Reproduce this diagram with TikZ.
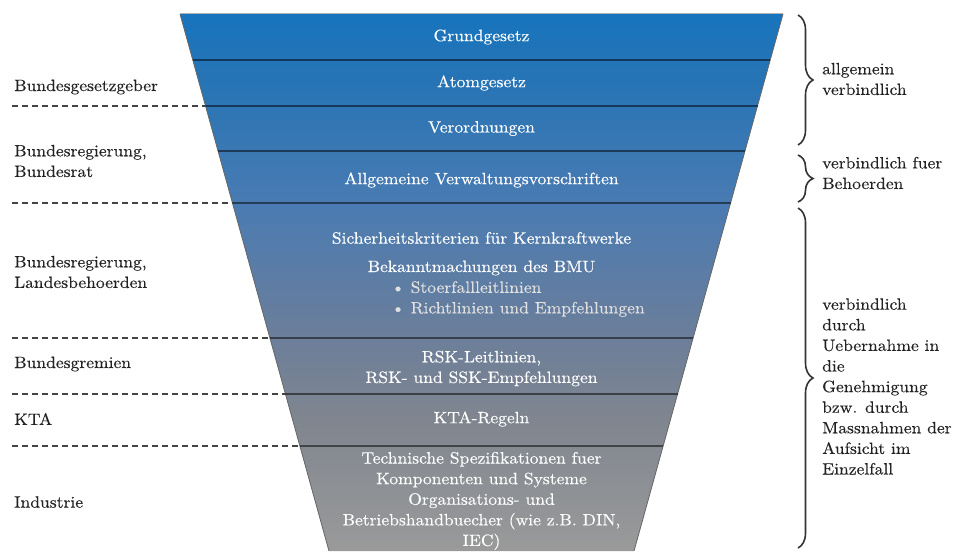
\documentclass[tikz,border=0pt]{standalone}
\usepackage{fontspec}
\setmainfont{lmroman10-regular.otf}[FakeStretch=1.07, FakeBold=0.3]
\usetikzlibrary{decorations.pathreplacing}
\definecolor{cA}{HTML}{1874BC}
\definecolor{cB}{HTML}{2774B5}
\definecolor{cC}{HTML}{4A7BB2}
\definecolor{cD}{HTML}{6B7E9A}
\definecolor{cE}{HTML}{80868F}
\definecolor{cF}{HTML}{9A9A9A}
\definecolor{dashc}{HTML}{444444}
\definecolor{bracec}{HTML}{333333}
\definecolor{labelc}{HTML}{222222}
\pgfdeclareverticalshading{funnelshade}{100bp}{color(0bp)=(cF); color(25bp)=(cF); color(37.2bp)=(cE); color(45.1bp)=(cD); color(57.2bp)=(cC); color(68.6bp)=(cB); color(75bp)=(cA); color(100bp)=(cA)}
\tikzset{
  every node/.style={font=\fontsize{16.4}{20.6}\selectfont, inner sep=0pt},
  intext/.style={text=white, align=center},
  subtext/.style={text=white!88!black, align=left},
  sidetext/.style={text=labelc, align=left, anchor=west},
  sepline/.style={draw=black, draw opacity=0.5, line width=1.5pt},
  dashline/.style={draw=dashc, line width=1.6pt, dash pattern=on 6pt off 4pt},
  bracestyle/.style={draw=bracec, line width=1.6pt, decorate, decoration={brace, amplitude=15pt}}
}
\begin{document}
\begin{tikzpicture}[x=1pt, y=-1pt]
\useasboundingbox (0,0) rectangle (957,551);
% funnel corners
\coordinate (tl) at (180,14);
\coordinate (tr) at (783,14);
\coordinate (bl) at (329,551);
\coordinate (br) at (634,551);
\shade[shading=funnelshade] (tl) -- (tr) -- (br) -- (bl) -- cycle;
\draw[black!60, line width=0.8pt] (tl) -- (bl);
\draw[black!60, line width=0.8pt] (tr) -- (br);
\draw[gray!60, line width=1pt] (tl) -- (tr);
% band separators
\coordinate (l1) at (192.8,60);  \coordinate (r1) at (770.2,60);
\coordinate (l2) at (205.5,106); \coordinate (r2) at (757.5,106);
\coordinate (l3) at (218.0,151); \coordinate (r3) at (745.0,151);
\coordinate (l4) at (232.4,203); \coordinate (r4) at (730.6,203);
\coordinate (l5) at (269.9,338); \coordinate (r5) at (693.1,338);
\coordinate (l6) at (285.4,394); \coordinate (r6) at (677.6,394);
\coordinate (l7) at (299.9,446); \coordinate (r7) at (663.1,446);
\foreach \i in {1,...,7} { \draw[sepline] (l\i) -- (r\i); }
% dashed left lines
\coordinate (d2) at (12,106);
\coordinate (d4) at (12,203);
\coordinate (d5) at (12,338);
\coordinate (d6) at (12,394);
\coordinate (d7) at (12,446);
\foreach \i in {2,4,5,6,7} { \draw[dashline] (d\i) -- (l\i); }
% funnel texts
\node[intext] (grund) at (481.5,37) {Grundgesetz};
\node[intext] (atom) at (481.5,83) {Atomgesetz};
\node[intext] (vo) at (481.5,128.5) {Verordnungen};
\node[intext] (avv) at (481.5,180) {Allgemeine Verwaltungsvorschriften};
\node[intext] (sich) at (481.5,238) {Sicherheitskriterien für Kernkraftwerke};
\node[intext] (bmu) at (481.5,268) {Bekanntmachungen des BMU};
\node[subtext, anchor=west] (bul) at (391,299) {\textbullet\ Stoerfallleitlinien\\\textbullet\ Richtlinien und Empfehlungen};
\node[intext] (rsk) at (481.5,368.5) {RSK-Leitlinien,\\RSK- und SSK-Empfehlungen};
\node[intext] (kta) at (481.5,419) {KTA-Regeln};
\node[intext] (tech) at (481.5,501) {Technische Spezifikationen fuer\\Komponenten und Systeme\\Organisations- und\\Betriebshandbuecher (wie z.B. DIN,\\IEC)};
% left labels
\node[sidetext] (bg) at (14,87) {Bundesgesetzgeber};
\node[sidetext] (br1) at (14,161) {Bundesregierung,\\Bundesrat};
\node[sidetext] (br2) at (14,272) {Bundesregierung,\\Landesbehoerden};
\node[sidetext] (bgr) at (14,364) {Bundesgremien};
\node[sidetext] (ktal) at (14,419) {KTA};
\node[sidetext] (ind) at (14,502) {Industrie};
% braces
\coordinate (b1t) at (798,15);  \coordinate (b1b) at (798,145);
\coordinate (b2t) at (798,155); \coordinate (b2b) at (798,202);
\coordinate (b3t) at (798,208); \coordinate (b3b) at (798,548);
\draw[bracestyle] (b1t) -- (b1b);
\draw[bracestyle] (b2t) -- (b2b);
\draw[bracestyle] (b3t) -- (b3b);
\node[sidetext] (rt1) at (822,79) {allgemein\\verbindlich};
\node[sidetext] (rt2) at (822,173) {verbindlich fuer\\Behoerden};
\node[sidetext] (rt3) at (822,386.5) {verbindlich\\durch\\Uebernahme in\\die\\Genehmigung\\bzw. durch\\Massnahmen der\\Aufsicht im\\Einzelfall};
\end{tikzpicture}
\end{document}
